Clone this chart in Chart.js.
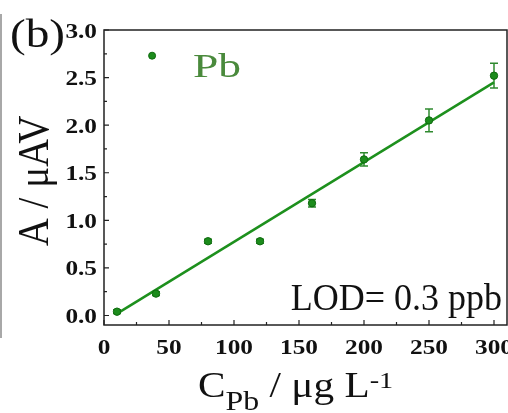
<!DOCTYPE html>
<html>
<head>
<meta charset="utf-8">
<script src="https://cdn.jsdelivr.net/npm/chart.js@4/dist/chart.umd.min.js"></script>
<style>
  html, body { margin: 0; padding: 0; background: #fff; }
  #wrap { position: relative; width: 508px; height: 413px; }
</style>
</head>
<body>
<div id="wrap"><canvas id="chart" width="508" height="413"></canvas></div>
<script>
// Pb calibration: concentration (ug/L) vs peak current (uA V)
var concentrations = [10, 40, 80, 120, 160, 200, 250, 300];
var currents = [0.04, 0.23, 0.78, 0.78, 1.18, 1.64, 2.05, 2.52];
var errors = [0.02, 0.02, 0.02, 0.02, 0.04, 0.07, 0.12, 0.13];
var strayX = [37];
var strayY = [2.73];
var fitX = [10, 300];
var fitY = [0.02, 2.45];
var xTicks = [0, 50, 100, 150, 200, 250, 300];
var yTicks = [0, 0.5, 1.0, 1.5, 2.0, 2.5, 3.0];

var GREEN = "#1c8c1c";
var SERIF = "'Liberation Serif', 'Times New Roman', serif";

function toPoints(xs, ys) {
    var out = [];
    for (var i = 0; i < xs.length; i++) out.push({ x: xs[i], y: ys[i] });
    return out;
}

// text squeezed or widened horizontally around its anchor
function wideText(ctx, text, x, y, font, align, sx) {
    ctx.save();
    ctx.translate(x, y);
    ctx.scale(sx, 1);
    ctx.font = font;
    ctx.textAlign = align;
    ctx.fillText(text, 0, 0);
    ctx.restore();
}

// box, inward ticks, tick labels, error bars and the text labels
var decorations = {
    id: "decorations",
    beforeDatasetsDraw: function (chart) {
        var ctx = chart.ctx;
        var xs = chart.scales.x, ys = chart.scales.y;
        ctx.save();
        ctx.strokeStyle = "#2f8a2f";
        ctx.lineWidth = 1.5;
        for (var i = 0; i < concentrations.length; i++) {
            var px = xs.getPixelForValue(concentrations[i]);
            var top = ys.getPixelForValue(currents[i] + errors[i]);
            var bot = ys.getPixelForValue(currents[i] - errors[i]);
            ctx.beginPath();
            ctx.moveTo(px, top); ctx.lineTo(px, bot);
            ctx.moveTo(px - 4, top); ctx.lineTo(px + 4, top);
            ctx.moveTo(px - 4, bot); ctx.lineTo(px + 4, bot);
            ctx.stroke();
        }
        ctx.restore();
    },
    afterDraw: function (chart) {
        var ctx = chart.ctx;
        var a = chart.chartArea;
        var xs = chart.scales.x, ys = chart.scales.y;
        ctx.save();

        // stray edge line on the left
        ctx.strokeStyle = "#a8a8a8";
        ctx.lineWidth = 2;
        ctx.beginPath();
        ctx.moveTo(1, 14); ctx.lineTo(1, 338);
        ctx.stroke();

        // frame
        ctx.strokeStyle = "#222";
        ctx.lineWidth = 1.5;
        ctx.strokeRect(a.left, a.top, a.right - a.left, a.bottom - a.top);

        // ticks pointing inward, majors and minors
        ctx.lineWidth = 1.2;
        ctx.beginPath();
        for (var v = 0; v <= 300; v += 25) {
            var px = xs.getPixelForValue(v);
            var len = v % 50 === 0 ? 5 : 3;
            ctx.moveTo(px, a.bottom); ctx.lineTo(px, a.bottom - len);
        }
        for (var w = 0; w <= 3.0001; w += 0.25) {
            var py = ys.getPixelForValue(w);
            var len2 = Math.abs(w * 2 - Math.round(w * 2)) < 1e-6 ? 5 : 3;
            ctx.moveTo(a.left, py); ctx.lineTo(a.left + len2, py);
        }
        ctx.stroke();

        ctx.fillStyle = "#111";
        ctx.textBaseline = "alphabetic";

        // tick labels
        var tickFont = "bold 22px " + SERIF;
        xTicks.forEach(function (t) {
            wideText(ctx, String(t), xs.getPixelForValue(t), 354, tickFont, "center", 1.15);
        });
        yTicks.forEach(function (t) {
            wideText(ctx, t.toFixed(1), a.left - 7, ys.getPixelForValue(t) + 7.5, tickFont, "right", 1.15);
        });

        // panel letter
        wideText(ctx, "(b)", 10, 47, "40px " + SERIF, "left", 1.18);

        // element label
        ctx.fillStyle = "#4a8a3c";
        wideText(ctx, "Pb", 193, 77, "33px " + SERIF, "left", 1.38);

        // detection limit
        ctx.fillStyle = "#111";
        wideText(ctx, "LOD= 0.3 ppb", 502, 310, "37.5px " + SERIF, "right", 0.96);

        // y title
        ctx.save();
        ctx.translate(48, 181);
        ctx.rotate(-Math.PI / 2);
        ctx.scale(1, 1.15);
        ctx.textAlign = "center";
        ctx.font = "39px " + SERIF;
        ctx.fillText("A / \u03bcAV", 0, 0);
        ctx.restore();

        // x title with subscript and superscript
        ctx.save();
        ctx.translate(198, 397);
        ctx.scale(1.18, 1);
        ctx.textAlign = "left";
        var cx = 0;
        ctx.font = "35px " + SERIF;
        ctx.fillText("C", cx, 0);
        cx += ctx.measureText("C").width;
        ctx.font = "27px " + SERIF;
        ctx.fillText("Pb", cx, 13);
        cx += ctx.measureText("Pb").width;
        ctx.font = "35px " + SERIF;
        ctx.fillText(" / \u03bcg L", cx, 0);
        cx += ctx.measureText(" / \u03bcg L").width;
        ctx.font = "24px " + SERIF;
        ctx.fillText("-1", cx, -9);
        ctx.restore();

        ctx.restore();
    }
};

var ctx = document.getElementById("chart").getContext("2d");
var chart = new Chart(ctx, {
    type: "scatter",
    data: {
        datasets: [
            {
                label: "Pb",
                data: toPoints(concentrations, currents),
                backgroundColor: GREEN,
                borderColor: "#0e6a0e",
                borderWidth: 1,
                pointRadius: 3.7,
                order: 0
            },
            {
                label: "stray",
                data: toPoints(strayX, strayY),
                backgroundColor: GREEN,
                borderColor: "#0e6a0e",
                borderWidth: 1,
                pointRadius: 3.5,
                order: 0
            },
            {
                label: "fit",
                data: toPoints(fitX, fitY),
                showLine: true,
                borderColor: "#1d901d",
                borderWidth: 2.5,
                pointRadius: 0,
                order: 1
            }
        ]
    },
    options: {
        responsive: false,
        animation: false,
        layout: { autoPadding: false, padding: { top: 30, right: 1, left: 0, bottom: 0 } },
        plugins: {
            legend: { display: false },
            tooltip: { enabled: false }
        },
        scales: {
            x: {
                type: "linear",
                min: 0,
                max: 310,
                grid: { display: false, drawTicks: false },
                border: { display: false },
                afterBuildTicks: function (s) { s.ticks = xTicks.map(function (v) { return { value: v }; }); },
                afterFit: function (s) { s.height = 88; },
                ticks: { display: false }
            },
            y: {
                type: "linear",
                min: -0.1,
                max: 3.0,
                grid: { display: false, drawTicks: false },
                border: { display: false },
                afterBuildTicks: function (s) { s.ticks = yTicks.map(function (v) { return { value: v }; }); },
                afterFit: function (s) { s.width = 104; },
                ticks: { display: false }
            }
        }
    },
    plugins: [decorations]
});
</script>
</body>
</html>
